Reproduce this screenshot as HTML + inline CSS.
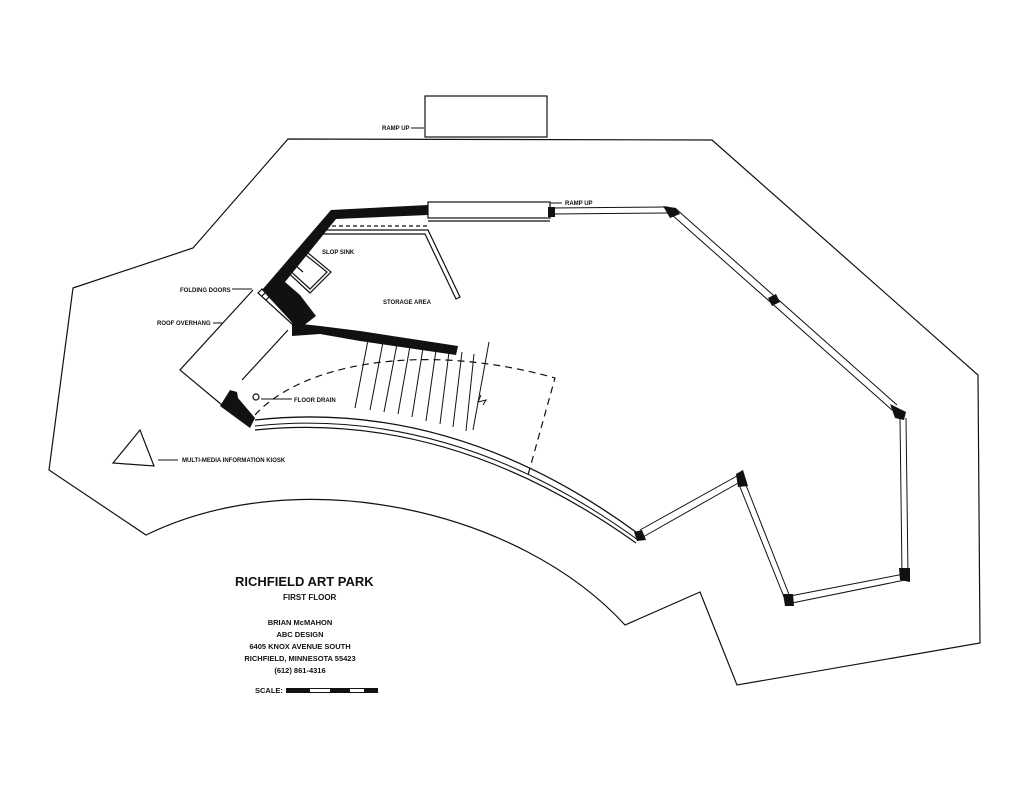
<!DOCTYPE html>
<html><head><style>
html,body{margin:0;padding:0;background:#fff;}
svg{display:block}
text{font-family:"Liberation Sans",sans-serif;font-weight:bold;fill:#111}
</style></head><body>
<svg width="1024" height="791" viewBox="0 0 1024 791" xmlns="http://www.w3.org/2000/svg">
<rect width="1024" height="791" fill="#fff"/>
<g fill="none" stroke="#111" stroke-width="1.2">
<path d="M288,139 L712,140 L978,375 L980,643 L737,685 L700,592 L625,625 C520,510 300,460 146,535 L49,470 L73,288 L193,248 Z"/>
<rect x="425" y="96" width="122" height="41"/>
<rect x="428" y="202" width="122" height="16"/>
<line x1="428" y1="221" x2="550" y2="221"/>
<path d="M253,290 L180,370 L222,405"/>
<line x1="288" y1="330" x2="242" y2="380"/>
<path d="M318,230 L428,230 L460,297 L456,299 L425,234 L318,234"/>
<path d="M318,226 L428,226" stroke-dasharray="4,3"/>
<path d="M283,268 L302,248 L331,272 L310,293 Z"/>
<path d="M287,268 L302,252 L327,272 L310,289 Z"/>
<line x1="295" y1="265" x2="303" y2="272"/>
<path d="M258,293 L262,289 L296,320 L292,324 Z"/>
<path d="M262,296 L266,292 L290,316"/>
<path d="M266,300 L270,296 L288,314"/>
<g stroke-width="1">
<line x1="368" y1="340" x2="355" y2="408"/>
<line x1="383" y1="342" x2="370" y2="410"/>
<line x1="397" y1="344" x2="384" y2="412"/>
<line x1="410" y1="346" x2="398" y2="414"/>
<line x1="423" y1="348" x2="412" y2="417"/>
<line x1="436" y1="350" x2="426" y2="421"/>
<line x1="449" y1="352" x2="440" y2="424"/>
<line x1="462" y1="352" x2="453" y2="427"/>
<line x1="474" y1="354" x2="466" y2="431"/>
<line x1="489" y1="342" x2="473" y2="430"/>
<path d="M481,395 L478,402 L486,400 L483,405"/>
</g>
<path d="M255,415 C300,365 420,340 555,378 L528,475" stroke-dasharray="7,5"/>
<path d="M255,420 Q455,398 640,535" stroke-width="1.3"/>
<path d="M255,426 Q452,405 638,540" stroke-width="1"/>
<path d="M255,430 Q450,410 636,543" stroke-width="1.2"/>
<g stroke-width="1">
<path d="M552,208 L668,207 M552,214 L668,213"/>
<path d="M675,208 L897,405 M671,214 L892,410"/>
<path d="M900,418 L902,575 M906,418 L908,575"/>
<path d="M904,574 L790,596 M905,580 L792,603"/>
<path d="M784,597 L738,482 M790,597 L744,480"/>
<path d="M737,476 L640,530 M740,482 L643,537"/>
</g>
<polygon points="113,463 140,430 154,466"/>
<circle cx="256" cy="397" r="3"/>
</g>
<g stroke="#111" stroke-width="1" fill="none">
<line x1="411" y1="128" x2="424" y2="128"/>
<line x1="562" y1="203" x2="550" y2="203"/>
<line x1="232" y1="289" x2="252" y2="289"/>
<line x1="213" y1="323" x2="222" y2="323"/>
<line x1="261" y1="399" x2="292" y2="399"/>
<line x1="158" y1="460" x2="178" y2="460"/>
</g>
<g fill="#111">
<path d="M331,210 L428,205 L428,215 L336,219 L285,282 L300,295 L316,316 L303,326 L295,326 L288,318 L262,290 Z"/>
<path d="M292,323 L320,326 L360,331 L458,346 L456,355 L360,341 L320,334 L292,336 Z"/>
<path d="M230,390 L237,392 L238,398 L255,418 L250,428 L220,406 Z"/>
<rect x="548" y="207" width="7" height="10"/>
<path d="M663,206 L676,208 L680,214 L670,218 Z"/>
<path d="M768,298 L776,294 L780,302 L772,306 Z"/>
<path d="M890,404 L906,412 L904,420 L895,418 Z"/>
<path d="M736,474 L743,470 L748,486 L738,487 Z"/>
<path d="M899,568 L910,568 L910,582 L900,580 Z"/>
<path d="M783,594 L793,594 L794,606 L785,606 Z"/>
<path d="M634,532 L642,530 L646,540 L637,541 Z"/>
<rect x="286" y="688" width="92" height="5"/>
</g>
<rect x="310" y="689" width="20" height="3" fill="#fff"/>
<rect x="350" y="689" width="14" height="3" fill="#fff"/>
<g font-size="6">
<text x="382" y="130">RAMP UP</text>
<text x="565" y="205">RAMP UP</text>
<text x="322" y="254">SLOP SINK</text>
<text x="383" y="304">STORAGE AREA</text>
<text x="180" y="292">FOLDING DOORS</text>
<text x="157" y="325">ROOF OVERHANG</text>
<text x="294" y="402">FLOOR DRAIN</text>
<text x="182" y="462">MULTI-MEDIA INFORMATION KIOSK</text>
</g>
<text x="235" y="586" font-size="13">RICHFIELD ART PARK</text>
<text x="283" y="600" font-size="8" font-weight="normal">FIRST FLOOR</text>
<g font-size="7.5" font-weight="normal" text-anchor="middle">
<text x="300" y="625">BRIAN McMAHON</text>
<text x="300" y="637">ABC DESIGN</text>
<text x="300" y="649">6405 KNOX AVENUE SOUTH</text>
<text x="300" y="661">RICHFIELD, MINNESOTA  55423</text>
<text x="300" y="673">(612) 861-4316</text>
</g>
<text x="255" y="693" font-size="7.5" font-weight="normal">SCALE:</text>
</svg>
</body></html>
